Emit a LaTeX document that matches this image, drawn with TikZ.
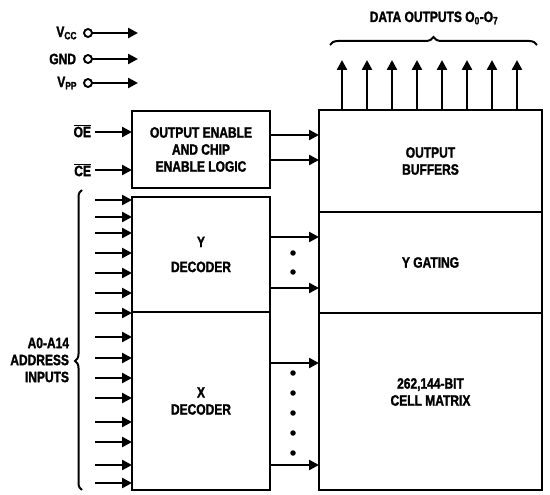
\documentclass[tikz,border=0pt]{standalone}
\usepackage{fontspec}
\setmainfont{Liberation Sans}
\newfontfamily\heavy{Liberation Sans Bold}[FakeStretch=0.8, FakeBold=1.6]
\usetikzlibrary{arrows.meta,decorations.pathreplacing}
\begin{document}
\begin{tikzpicture}[x=1pt,y=-1pt,
  every node/.style={font=\heavy\fontsize{15}{17}\selectfont, inner sep=0pt, outer sep=0pt},
  blk/.style={draw, line width=2.8pt, minimum width=138pt, align=center},
  col/.style={draw, line width=2.8pt, minimum width=223pt, align=center},
  arr/.style={line width=2.4pt, -{Triangle[length=10pt,width=10pt]}},
  pin/.style={circle, draw, line width=1.9pt, minimum size=8pt},
  brc/.style={decorate, line width=2pt},
  dotm/.style={circle, fill, minimum size=5.5pt}]
\useasboundingbox (0,0) rectangle (550,495);

% supply pins
\node[anchor=east] (vccl) at (77,33) {V\textsubscript{CC}};
\node[anchor=east] (gndl) at (76,59) {GND};
\node[anchor=east] (vppl) at (77,83) {V\textsubscript{PP}};
\node[pin] (vccp) at (88,33) {};
\node[pin] (gndp) at (88,59) {};
\node[pin] (vppp) at (88,83) {};
\coordinate (vcce) at (138,33);
\coordinate (gnde) at (138,59);
\coordinate (vppe) at (138,83);
\draw[arr] (vccp.east) -- (vcce);
\draw[arr] (gndp.east) -- (gnde);
\draw[arr] (vppp.east) -- (vppe);

% left blocks
\node[blk, minimum height=77pt] (oe) at (201,149.5) {OUTPUT ENABLE\\AND CHIP\\ENABLE LOGIC};
\node[blk, minimum height=115pt] (ydec) at (201,254.5) {Y\\[8pt]DECODER};
\node[blk, minimum height=178pt] (xdec) at (201,401) {X\\DECODER};

% right column
\node[col, minimum height=102pt] (ob) at (430.5,161) {OUTPUT\\BUFFERS};
\node[col, minimum height=101pt] (yg) at (430.5,262.5) {Y GATING};
\node[col, minimum height=177pt] (cm) at (430.5,401.5) {};
\node[align=center] (cmt) at (430.5,392) {262,144-BIT\\CELL MATRIX};

% OE / CE inputs
\node[anchor=east] (oel) at (91,131) {$\overline{\mbox{OE}}$};
\node[anchor=east] (cel) at (91,170) {$\overline{\mbox{CE}}$};
\coordinate (oes) at (95,132);
\coordinate (ces) at (95,170);
\draw[arr] (oes) -- (oes -| oe.west);
\draw[arr] (ces) -- (ces -| oe.west);

% logic to output buffers
\coordinate (l1) at (300,135);
\coordinate (l2) at (300,160);
\draw[arr] (l1 -| oe.east) -- (l1 -| ob.west);
\draw[arr] (l2 -| oe.east) -- (l2 -| ob.west);

% address inputs
\foreach \y [count=\i] in {200,217,233,253,273,293,313,337,358,378,398,422,442,465,483}{
  \coordinate (a\i) at (95,\y);
  \draw[arr] (a\i) -- (a\i -| ydec.west);
}
\coordinate (bb) at (82,490);
\coordinate (bt) at (82,190);
\draw[brc, decoration={brace, amplitude=7pt, aspect=0.43}] (bb) -- (bt);
\node[anchor=east, align=right] (addr) at (69,360) {A0-A14\\ADDRESS\\INPUTS};

% decoder to array
\foreach \y/\n in {237/y1,288/y2}{
  \coordinate (\n) at (300,\y);
  \draw[arr] (\n -| ydec.east) -- (\n -| yg.west);
}
\foreach \y/\n in {363/x1,465/x2}{
  \coordinate (\n) at (300,\y);
  \draw[arr] (\n -| xdec.east) -- (\n -| cm.west);
}
\foreach \y [count=\i] in {253,272}{
  \node[dotm] (yd\i) at (293,\y) {};
}
\foreach \y [count=\i] in {373,393,413,433,453}{
  \node[dotm] (xd\i) at (293,\y) {};
}

% data outputs
\foreach \x [count=\i] in {342,367,392,417,442,467,492,517}{
  \coordinate (o\i) at (\x,60);
  \draw[arr] (o\i |- ob.north) -- (o\i);
}
\coordinate (tl) at (330,45);
\coordinate (tr) at (537,45);
\draw[brc, decoration={brace, amplitude=8pt, aspect=0.5}] (tl) -- (tr);
\node (dout) at (434,18) {DATA OUTPUTS O\textsubscript{0}-O\textsubscript{7}};
\end{tikzpicture}
\end{document}
